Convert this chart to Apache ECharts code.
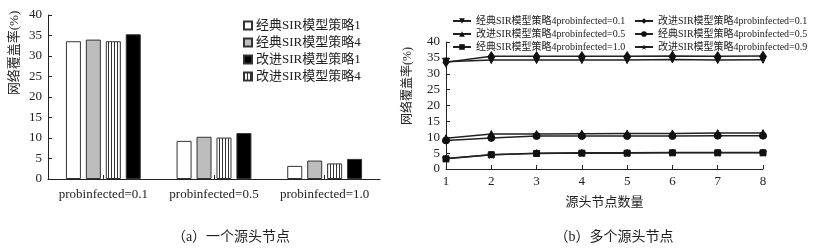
<!DOCTYPE html>
<html>
<head>
<meta charset="utf-8">
<script src="https://cdn.jsdelivr.net/npm/echarts@6/dist/echarts.min.js"></script>
<style>
  html, body { margin: 0; padding: 0; background: #fff; }
  #chart { width: 813px; height: 251px; }
</style>
</head>
<body>
<div id="chart"></div>
<script>
// (a) one source node
const probCategories = ['probinfected=0.1', 'probinfected=0.5', 'probinfected=1.0'];
const classic1 = [33.6, 9.3, 3.2];
const classic4 = [34.0, 10.3, 4.5];
const improved4 = [33.6, 10.1, 3.8];
const improved1 = [35.3, 11.2, 4.9];

// (b) several source nodes
const nodeCounts = ['1', '2', '3', '4', '5', '6', '7', '8'];
const classic01 = [33.8, 34.3, 34.3, 34.3, 34.3, 34.5, 34.3, 34.4];
const improved01 = [33.6, 35.5, 35.5, 35.5, 35.5, 35.6, 35.5, 35.6];
const improved05 = [9.7, 11.0, 11.0, 11.1, 11.2, 11.2, 11.3, 11.3];
const classic05 = [9.0, 9.8, 10.4, 10.4, 10.4, 10.4, 10.5, 10.5];
const classic10 = [3.2, 4.5, 4.9, 5.0, 5.0, 5.1, 5.1, 5.1];
const improved09 = [3.3, 4.5, 5.0, 5.1, 5.1, 5.2, 5.2, 5.2];

const yTicks = [0, 5, 10, 15, 20, 25, 30, 35, 40];

const FONT = '"Liberation Serif", "Noto Sans CJK SC", serif';
const INK = '#222';

// vertical stripes for the hatched bars
const stripe = document.createElement('canvas');
stripe.width = 3;
stripe.height = 8;
const sctx = stripe.getContext('2d');
sctx.fillStyle = '#fff';
sctx.fillRect(0, 0, 3, 8);
sctx.fillStyle = '#333';
sctx.fillRect(0, 0, 1, 8);

const starPath = 'path://M50,0 L61,35 L98,35 L68,57 L79,91 L50,70 L21,91 L32,57 L2,35 L39,35 Z';

const valueAxis = (gridIndex) => ({
  type: 'value',
  gridIndex,
  min: yTicks[0],
  max: yTicks[yTicks.length - 1],
  interval: 5,
  splitLine: { show: false },
  axisLine: { show: true, lineStyle: { color: INK, width: 1 } },
  axisTick: { show: true, inside: true, length: 4, lineStyle: { color: INK } },
  axisLabel: { color: INK, fontFamily: FONT, fontSize: 13, margin: 6 },
});

const barSeries = (name, data, color) => ({
  name,
  type: 'bar',
  xAxisIndex: 0,
  yAxisIndex: 0,
  data,
  barWidth: 15,
  barGap: '33%',
  itemStyle: { color, borderColor: '#333', borderWidth: 1 },
});

const lineSeries = (name, data, symbol, extra) => Object.assign({
  name,
  type: 'line',
  xAxisIndex: 1,
  yAxisIndex: 1,
  data,
  symbol,
  symbolSize: 7,
  lineStyle: { color: '#222', width: 1.5 },
  itemStyle: { color: '#111', borderColor: '#111' },
}, extra || {});

const chart = echarts.init(document.getElementById('chart'));

chart.setOption({
  animation: false,
  backgroundColor: '#fff',
  textStyle: { fontFamily: FONT, color: INK },
  grid: [
    { left: 48, top: 15, width: 332, height: 164 },
    { left: 446, top: 42, width: 317, height: 127 },
  ],
  legend: [
    {
      data: ['经典SIR模型策略1', '经典SIR模型策略4', '改进SIR模型策略1', '改进SIR模型策略4'],
      orient: 'vertical',
      left: 238,
      top: 14,
      itemWidth: 8,
      itemHeight: 8,
      itemGap: 4,
      icon: 'rect',
      textStyle: { fontFamily: FONT, fontSize: 13, color: INK, padding: [0, 0, 0, -1] },
    },
    {
      data: ['经典SIR模型策略4probinfected=0.1', '改进SIR模型策略4probinfected=0.5', '经典SIR模型策略4probinfected=1.0'],
      orient: 'vertical',
      left: 447,
      top: 11,
      itemWidth: 18,
      itemHeight: 7,
      itemGap: 3,
      textStyle: { fontFamily: FONT, fontSize: 10, color: INK },
    },
    {
      data: ['改进SIR模型策略4probinfected=0.1', '经典SIR模型策略4probinfected=0.5', '改进SIR模型策略4probinfected=0.9'],
      orient: 'vertical',
      left: 629,
      top: 11,
      itemWidth: 18,
      itemHeight: 7,
      itemGap: 3,
      textStyle: { fontFamily: FONT, fontSize: 10, color: INK },
    },
  ],
  xAxis: [
    {
      type: 'category',
      gridIndex: 0,
      data: probCategories,
      axisLine: { lineStyle: { color: INK, width: 1 } },
      axisTick: { show: true, inside: true, alignWithLabel: true, length: 4, lineStyle: { color: INK } },
      axisLabel: { color: INK, fontFamily: FONT, fontSize: 13, margin: 9, interval: 0 },
    },
    {
      type: 'category',
      gridIndex: 1,
      data: nodeCounts,
      boundaryGap: false,
      axisLine: { lineStyle: { color: INK, width: 1 } },
      axisTick: { show: true, inside: true, length: 4, lineStyle: { color: INK } },
      axisLabel: { color: INK, fontFamily: FONT, fontSize: 13, margin: 6, interval: 0 },
      name: '源头节点数量',
      nameLocation: 'middle',
      nameGap: 27,
      nameTextStyle: { color: INK, fontFamily: FONT, fontSize: 13 },
    },
  ],
  yAxis: [valueAxis(0), valueAxis(1)],
  graphic: [
    {
      type: 'text', x: 15, y: 53, rotation: Math.PI / 2,
      style: { text: '网络覆盖率(%)', font: '13px ' + FONT, fill: INK, align: 'center', verticalAlign: 'middle' },
    },
    {
      type: 'text', x: 408, y: 86, rotation: Math.PI / 2,
      style: { text: '网络覆盖率(%)', font: '12px ' + FONT, fill: INK, align: 'center', verticalAlign: 'middle' },
    },
    {
      type: 'text', x: 231, y: 237,
      style: { text: '（a）一个源头节点', font: '14px ' + FONT, fill: INK, align: 'center', verticalAlign: 'middle' },
    },
    {
      type: 'text', x: 614, y: 237,
      style: { text: '（b）多个源头节点', font: '14px ' + FONT, fill: INK, align: 'center', verticalAlign: 'middle' },
    },
  ],
  series: [
    barSeries('经典SIR模型策略1', classic1, '#fff'),
    barSeries('经典SIR模型策略4', classic4, '#bdbdbd'),
    barSeries('改进SIR模型策略4', improved4, { image: stripe, repeat: 'repeat' }),
    barSeries('改进SIR模型策略1', improved1, '#000'),
    lineSeries('经典SIR模型策略4probinfected=0.1', classic01, 'triangle', { symbolRotate: 180 }),
    lineSeries('改进SIR模型策略4probinfected=0.1', improved01, 'diamond', { symbolSize: [6, 9] }),
    lineSeries('改进SIR模型策略4probinfected=0.5', improved05, 'triangle'),
    lineSeries('经典SIR模型策略4probinfected=0.5', classic05, 'circle'),
    lineSeries('经典SIR模型策略4probinfected=1.0', classic10, 'rect', { symbolSize: 6 }),
    lineSeries('改进SIR模型策略4probinfected=0.9', improved09, starPath, { symbolSize: 7 }),
  ],
});
</script>
</body>
</html>
